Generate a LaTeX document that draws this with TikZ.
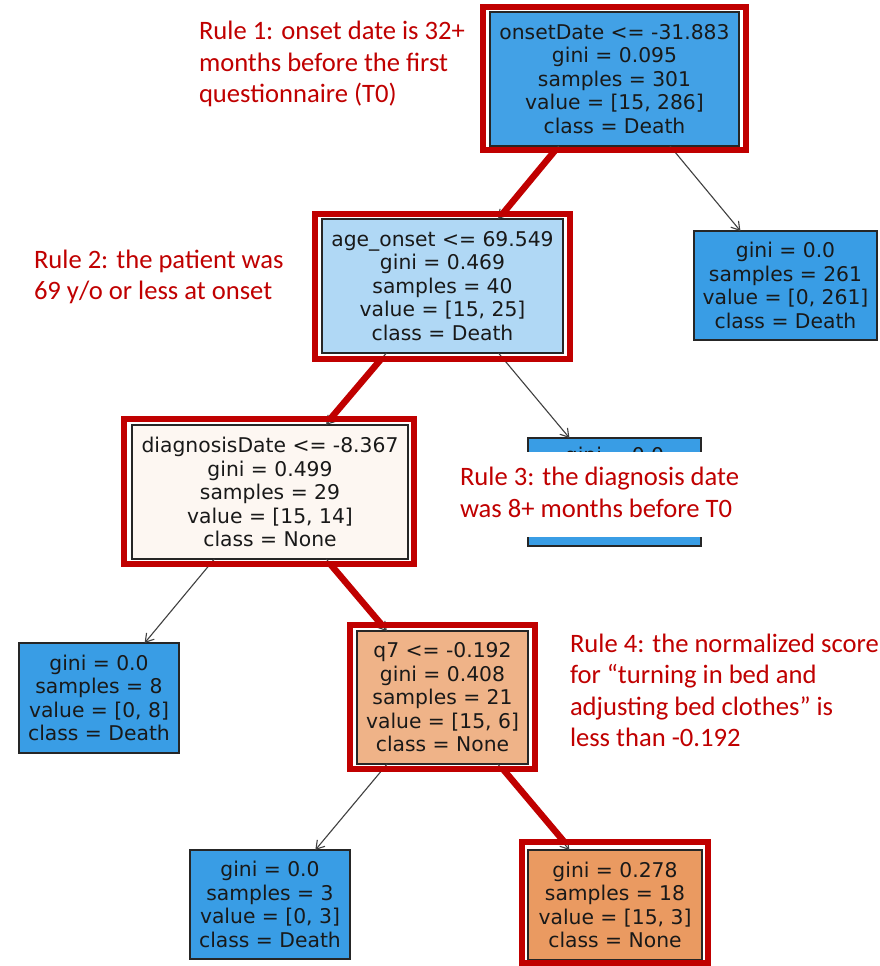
\documentclass[tikz,border=0pt]{standalone}
\usepackage{fontspec}
\newfontfamily\treefont{DejaVu Sans}
\newfontfamily\rulefont{Carlito}
\usetikzlibrary{arrows.meta}
\definecolor{rulered}{HTML}{C00000}
\definecolor{deathblue}{HTML}{399DE5}
\definecolor{rootblue}{HTML}{42A1E6}
\definecolor{ageblue}{HTML}{B0D8F5}
\definecolor{diagcol}{HTML}{FDF7F2}
\definecolor{qsevencol}{HTML}{EFB388}
\definecolor{leafcol}{HTML}{EA9A61}
\begin{document}
\begin{tikzpicture}[x=1pt,y=-1pt,
  treebox/.style={draw=black!85, line width=1.2pt, rectangle, inner sep=0pt, outer sep=0pt,
    align=center, font=\treefont\fontsize{20.3}{23.5}\selectfont, text=black!90},
  redframe/.style={draw=rulered, line width=6pt, rectangle, inner sep=0pt, outer sep=0pt},
  redlink/.style={draw=rulered, line width=6.5pt},
  treearrow/.style={draw=black!75, line width=1.1pt, -{Straight Barb[length=8pt,width=10pt]}},
  ruletext/.style={text=rulered, font=\rulefont\fontsize{26.6}{31.5}\selectfont, align=left,
    inner sep=0pt, outer sep=0pt, anchor=base west}]
\useasboundingbox[fill=white] (0,0) rectangle (879,966);

% tree boxes
\node[treebox, fill=rootblue, minimum width=249pt, minimum height=134pt] (root) at (614.5,79)
  {onsetDate <= -31.883\\gini = 0.095\\samples = 301\\value = [15, 286]\\class = Death};
\node[treebox, fill=deathblue, minimum width=183pt, minimum height=109pt] (rleaf) at (785.5,285.5)
  {gini = 0.0\\samples = 261\\value = [0, 261]\\class = Death};
\node[treebox, fill=ageblue, minimum width=241pt, minimum height=134pt] (age) at (442.5,286)
  {age\_onset <= 69.549\\gini = 0.469\\samples = 40\\value = [15, 25]\\class = Death};
\node[treebox, fill=deathblue, minimum width=173pt, minimum height=108pt] (occ) at (614.5,492) {};
\node[treebox, draw=none, anchor=base] (occtext) at (614.5,462.5) {gini = 0.0};
\node[treebox, fill=diagcol, minimum width=276pt, minimum height=134pt] (diag) at (270,492)
  {diagnosisDate <= -8.367\\gini = 0.499\\samples = 29\\value = [15, 14]\\class = None};
\node[treebox, fill=deathblue, minimum width=160pt, minimum height=110pt] (leafeight) at (99,698)
  {gini = 0.0\\samples = 8\\value = [0, 8]\\class = Death};
\node[treebox, fill=qsevencol, minimum width=171pt, minimum height=133pt] (qseven) at (442.5,697.5)
  {q7 <= -0.192\\gini = 0.408\\samples = 21\\value = [15, 6]\\class = None};
\node[treebox, fill=deathblue, minimum width=160pt, minimum height=109pt] (leafthree) at (270,904.5)
  {gini = 0.0\\samples = 3\\value = [0, 3]\\class = Death};
\node[treebox, fill=leafcol, minimum width=174pt, minimum height=110pt] (leafeighteen) at (615,905)
  {gini = 0.278\\samples = 18\\value = [15, 3]\\class = None};

% thin connectors
\draw[treearrow] (root) -- (rleaf);
\draw[treearrow] (root) -- (age);
\draw[treearrow] (age) -- (diag);
\draw[treearrow] (age) -- (occ);
\draw[treearrow] (diag) -- (leafeight);
\draw[treearrow] (diag) -- (qseven);
\draw[treearrow] (qseven) -- (leafthree);
\draw[treearrow] (qseven) -- (leafeighteen);

% red highlight frames
\node[redframe, minimum width=263pt, minimum height=143pt] (rootR) at (614.5,78.5) {};
\node[redframe, minimum width=255pt, minimum height=145pt] (ageR) at (442.5,286.5) {};
\node[redframe, minimum width=290pt, minimum height=145pt] (diagR) at (269,491.5) {};
\node[redframe, minimum width=185pt, minimum height=144pt] (qsevenR) at (442.5,697) {};
\node[redframe, minimum width=186pt, minimum height=121pt] (leafR) at (615,902.5) {};

% red highlight path
\draw[redlink] (rootR) -- (ageR);
\draw[redlink] (ageR) -- (diagR);
\draw[redlink] (diagR) -- (qsevenR);
\draw[redlink] (qsevenR) -- (leafR);

% annotations
\fill[white] (455,452) rectangle (742,537);
\node[ruletext] (ruleone) at (199,102.7)
  {Rule 1: onset date is 32+\\months before the first\\questionnaire (T0)};
\node[ruletext] (ruletwo) at (34,299.5)
  {Rule 2: the patient was\\69 y/o or less at onset};
\node[ruletext] (rulethree) at (460,517.3)
  {Rule 3: the diagnosis date\\was 8+ months before T0};
\node[ruletext] (rulefour) at (570,746.5)
  {Rule 4: the normalized score\\for “turning in bed and\\adjusting bed clothes” is\\less than -0.192};
\end{tikzpicture}
\end{document}
